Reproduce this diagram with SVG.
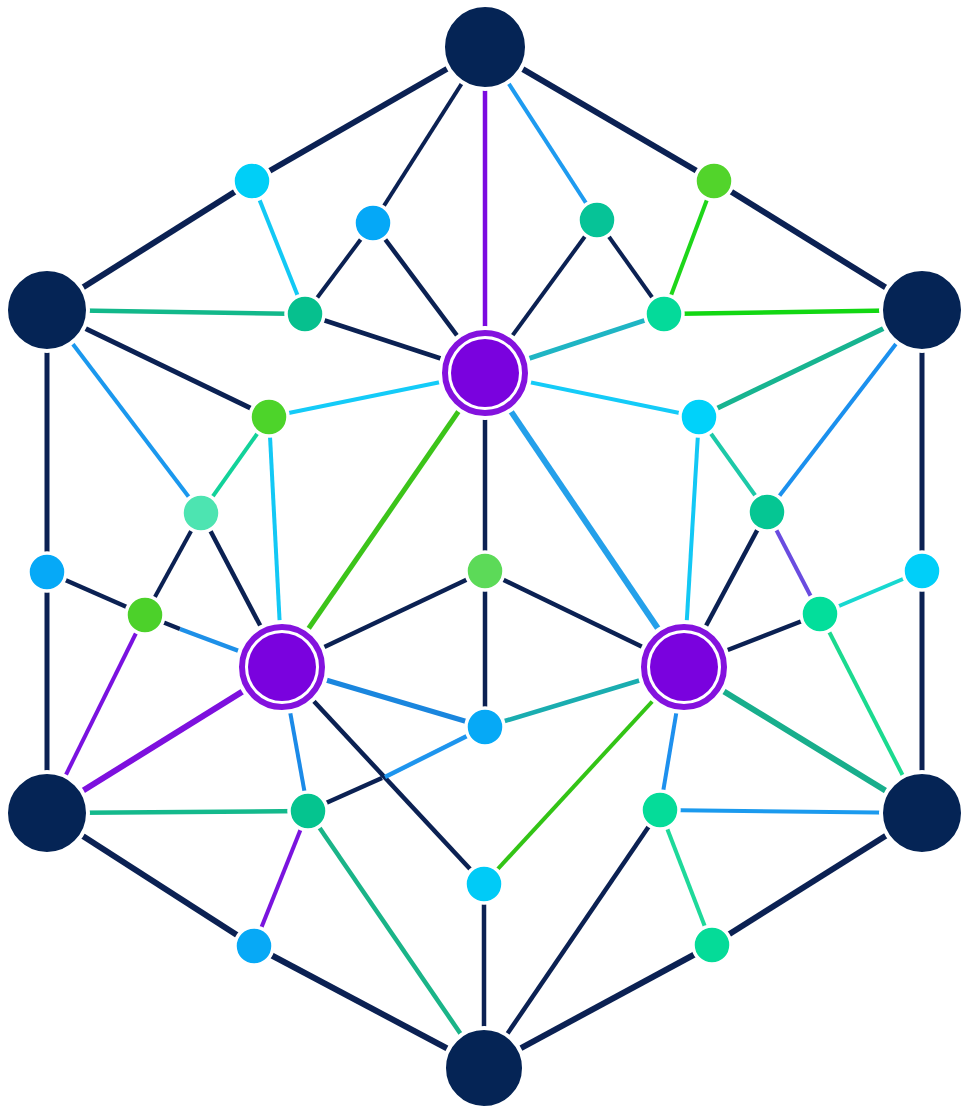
<svg xmlns="http://www.w3.org/2000/svg" width="970" height="1114" viewBox="0 0 970 1114">
<style>
line{stroke-linecap:butt;fill:none}
.nv{stroke:#0b2153}
.w4{stroke-width:4}
.w45{stroke-width:4.5}
.w5{stroke-width:5}
.w6{stroke-width:6}
.hub{fill:#052455;stroke:#fff;stroke-width:4}
.hubo{fill:none;stroke:#3a4a6a;stroke-width:1;opacity:.5}
.sm{stroke:#fff;stroke-width:3.5}
.ring{fill:#fff;stroke:#8412de;stroke-width:6}
.core{fill:#7a02de}
.halo{fill:#fff}
</style>
<rect width="970" height="1114" fill="#fff"/>
<g id="edges">
<line class="nv w6" x1="485" y1="47" x2="252" y2="181"/>
<line class="nv w6" x1="252" y1="181" x2="47" y2="310"/>
<line class="nv w6" x1="485" y1="47" x2="714" y2="181"/>
<line class="nv w6" x1="714" y1="181" x2="922" y2="310"/>
<line class="nv w4" x1="485" y1="47" x2="373" y2="223"/>
<line class="w45" stroke="#7b0ae0" x1="485" y1="47" x2="485" y2="373"/>
<line class="w4" stroke="#1e9bf0" x1="485" y1="47" x2="597" y2="220"/>
<line class="w4" stroke="#12c9f5" x1="252" y1="181" x2="305" y2="314"/>
<line class="nv w4" x1="373" y1="223" x2="305" y2="314"/>
<line class="nv w45" x1="373" y1="223" x2="485" y2="373"/>
<line class="w45" stroke="#12b88a" x1="47" y1="310" x2="305" y2="314"/>
<line class="nv w45" x1="305" y1="314" x2="485" y2="373"/>
<line class="nv w4" x1="597" y1="220" x2="485" y2="373"/>
<line class="nv w4" x1="597" y1="220" x2="664" y2="314"/>
<line class="w4" stroke="#1ed61a" x1="714" y1="181" x2="664" y2="314"/>
<line class="w45" stroke="#12d712" x1="664" y1="314" x2="922" y2="310"/>
<line class="w5" stroke="#1fb5c4" x1="664" y1="314" x2="485" y2="373"/>
<line class="w5" stroke="#17b490" x1="922" y1="310" x2="699" y2="417"/>
<line class="w4" stroke="#14cbf8" x1="485" y1="373" x2="699" y2="417"/>
<line class="w4" stroke="#14cbf8" x1="485" y1="373" x2="269" y2="417"/>
<line class="nv w5" x1="47" y1="310" x2="269" y2="417"/>
<line class="w4" stroke="#1b98ee" x1="47" y1="310" x2="201" y2="513"/>
<line class="w4" stroke="#1b90ee" x1="922" y1="310" x2="767" y2="512"/>
<line class="w4" stroke="#12d29a" x1="269" y1="417" x2="201" y2="513"/>
<line class="w4" stroke="#13c8f5" x1="269" y1="417" x2="282" y2="667"/>
<line class="w4" stroke="#13c8f5" x1="699" y1="417" x2="684" y2="667"/>
<line class="w4" stroke="#1dc9a8" x1="699" y1="417" x2="767" y2="512"/>
<line class="w5" stroke="#3cc41a" x1="485" y1="373" x2="282" y2="667"/>
<line class="w6" stroke="#24a0ea" x1="485" y1="373" x2="684" y2="667"/>
<line class="nv w45" x1="485" y1="373" x2="485" y2="571"/>
<line class="nv w4" x1="201" y1="513" x2="145" y2="615"/>
<line class="nv w45" x1="201" y1="513" x2="282" y2="667"/>
<line class="nv w45" x1="767" y1="512" x2="684" y2="667"/>
<line class="w4" stroke="#6a4ce0" x1="767" y1="512" x2="820" y2="614"/>
<line class="nv w5" x1="47" y1="310" x2="47" y2="572"/>
<line class="nv w5" x1="47" y1="572" x2="47" y2="813"/>
<line class="nv w5" x1="922" y1="310" x2="922" y2="571"/>
<line class="nv w5" x1="922" y1="571" x2="922" y2="813"/>
<line class="nv w45" x1="47" y1="572" x2="145" y2="615"/>
<line class="w4" stroke="#18d8d0" x1="922" y1="571" x2="820" y2="614"/>
<line class="nv w45" x1="145" y1="615" x2="180" y2="629"/>
<line class="w45" stroke="#1e90e8" x1="180" y1="629" x2="282" y2="667"/>
<line class="w4" stroke="#7a12e0" x1="145" y1="615" x2="47" y2="813"/>
<line class="nv w45" x1="820" y1="614" x2="684" y2="667"/>
<line class="w4" stroke="#1bda8f" x1="820" y1="614" x2="922" y2="813"/>
<line class="nv w45" x1="485" y1="571" x2="282" y2="667"/>
<line class="nv w45" x1="485" y1="571" x2="684" y2="667"/>
<line class="nv w45" x1="485" y1="571" x2="485" y2="727"/>
<line class="w5" stroke="#1a86de" x1="282" y1="667" x2="485" y2="727"/>
<line class="w45" stroke="#1aadb0" x1="684" y1="667" x2="485" y2="727"/>
<line class="w6" stroke="#7d10de" x1="282" y1="667" x2="47" y2="813"/>
<line class="w6" stroke="#18ae8c" x1="684" y1="667" x2="922" y2="813"/>
<line class="w4" stroke="#1b8ae8" x1="282" y1="667" x2="308" y2="811"/>
<line class="nv w45" x1="282" y1="667" x2="484" y2="884"/>
<line class="w4" stroke="#1e90ee" x1="684" y1="667" x2="660" y2="810"/>
<line class="w4" stroke="#33c416" x1="684" y1="667" x2="484" y2="884"/>
<line class="nv w45" x1="308" y1="811" x2="382" y2="778"/>
<line class="w45" stroke="#1e95ee" x1="385" y1="777" x2="485" y2="727"/>
<line class="w45" stroke="#14b98c" x1="47" y1="813" x2="308" y2="811"/>
<line class="w4" stroke="#1b9aee" x1="922" y1="813" x2="660" y2="810"/>
<line class="w4" stroke="#7a14de" x1="308" y1="811" x2="254" y2="946"/>
<line class="w45" stroke="#1ab488" x1="308" y1="811" x2="484" y2="1068"/>
<line class="w4" stroke="#1ed99a" x1="660" y1="810" x2="712" y2="945"/>
<line class="nv w45" x1="660" y1="810" x2="484" y2="1068"/>
<line class="nv w45" x1="484" y1="884" x2="484" y2="1068"/>
<line class="nv w6" x1="47" y1="813" x2="254" y2="946"/>
<line class="nv w6" x1="254" y1="946" x2="484" y2="1068"/>
<line class="nv w6" x1="922" y1="813" x2="712" y2="945"/>
<line class="nv w6" x1="712" y1="945" x2="484" y2="1068"/>
</g>
<g id="T"><circle class="hub" cx="485" cy="47" r="42"/></g>
<g id="UL"><circle class="hub" cx="47" cy="310" r="41"/></g>
<g id="UR"><circle class="hub" cx="922" cy="310" r="41"/></g>
<g id="LL"><circle class="hub" cx="47" cy="813" r="41"/></g>
<g id="LR"><circle class="hub" cx="922" cy="813" r="41"/></g>
<g id="B"><circle class="hub" cx="484" cy="1068" r="40"/></g>
<g id="P1"><circle class="halo" cx="485" cy="373" r="47"/><circle class="ring" cx="485" cy="373" r="40"/><circle class="core" cx="485" cy="373" r="34"/></g>
<g id="P2"><circle class="halo" cx="282" cy="667" r="47"/><circle class="ring" cx="282" cy="667" r="40"/><circle class="core" cx="282" cy="667" r="34"/></g>
<g id="P3"><circle class="halo" cx="684" cy="667" r="47"/><circle class="ring" cx="684" cy="667" r="40"/><circle class="core" cx="684" cy="667" r="34"/></g>
<g id="a"><circle class="sm" cx="252" cy="181" r="19" fill="#00cff7"/></g>
<g id="b"><circle class="sm" cx="373" cy="223" r="19" fill="#05a8f7"/></g>
<g id="c"><circle class="sm" cx="305" cy="314" r="19" fill="#06c08e"/></g>
<g id="d"><circle class="sm" cx="597" cy="220" r="19" fill="#06c397"/></g>
<g id="e"><circle class="sm" cx="714" cy="181" r="19" fill="#52d42b"/></g>
<g id="f"><circle class="sm" cx="664" cy="314" r="19" fill="#04da9a"/></g>
<g id="g"><circle class="sm" cx="269" cy="417" r="19" fill="#4dd42a"/></g>
<g id="h"><circle class="sm" cx="699" cy="417" r="19" fill="#00d2fa"/></g>
<g id="i"><circle class="sm" cx="201" cy="513" r="19" fill="#4de4b1"/></g>
<g id="j"><circle class="sm" cx="767" cy="512" r="19" fill="#05c693"/></g>
<g id="k"><circle class="sm" cx="47" cy="572" r="19" fill="#06a9f7"/></g>
<g id="l"><circle class="sm" cx="922" cy="571" r="19" fill="#00cff9"/></g>
<g id="m"><circle class="sm" cx="145" cy="615" r="19" fill="#4cd12a"/></g>
<g id="n"><circle class="sm" cx="485" cy="571" r="19" fill="#5cda58"/></g>
<g id="o"><circle class="sm" cx="820" cy="614" r="19" fill="#03de9b"/></g>
<g id="p"><circle class="sm" cx="485" cy="727" r="19" fill="#06a9f6"/></g>
<g id="q"><circle class="sm" cx="308" cy="811" r="19" fill="#05c48f"/></g>
<g id="r"><circle class="sm" cx="660" cy="810" r="19" fill="#05dc99"/></g>
<g id="s"><circle class="sm" cx="484" cy="884" r="19" fill="#00cbf7"/></g>
<g id="t"><circle class="sm" cx="254" cy="946" r="19" fill="#07a9f6"/></g>
<g id="u"><circle class="sm" cx="712" cy="945" r="19" fill="#05db98"/></g>
</svg>
